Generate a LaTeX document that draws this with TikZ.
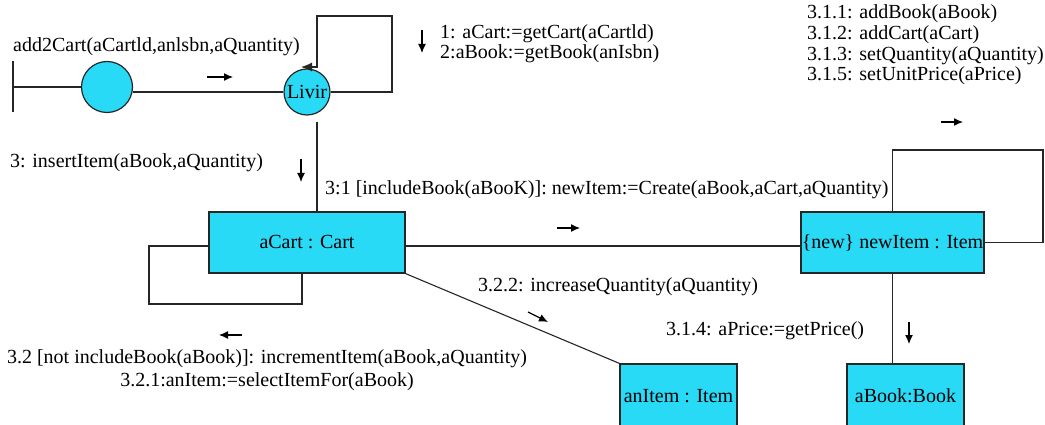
\documentclass[tikz,border=0pt]{standalone}
\usepackage{fontspec}
\setmainfont{Liberation Serif}
\usetikzlibrary{arrows.meta, positioning, calc}
\definecolor{objcyan}{RGB}{41,218,247}

\begin{document}
\begin{tikzpicture}[
    x=1pt, y=-1pt,
    every node/.style={font=\fontsize{20}{20.7}\selectfont},
    object/.style={rectangle, draw=black!85, line width=1.2pt, fill=objcyan, inner sep=0pt},
    role/.style={circle, draw=black!85, line width=1.2pt, fill=objcyan, inner sep=0pt, minimum size=46pt},
    link/.style={draw=black!85, line width=1.1pt},
    msg/.style={draw, line width=1.2pt, -{Latex[length=9pt, width=8pt]}},
    msglabel/.style={inner sep=0pt, anchor=west, align=left}
]
    \useasboundingbox (0,0) rectangle (1045,425);
    \clip (0,0) rectangle (1045,425);

    % Objects
    \node (anon) [role, minimum size=51pt] at (107,87) {};
    \node (livir) [role] at (307,92) {Livir};
    \node (acart) [object, minimum width=196pt, minimum height=61pt] at (307,242.5) {aCart : Cart};
    \node (newitem) [object, minimum width=183pt, minimum height=61pt] at (892.5,242.5) {\{new\} newItem : Item};
    \node (anitem) [object, minimum width=117pt, minimum height=64pt] at (678.5,396) {anItem : Item};
    \node (abook) [object, minimum width=117pt, minimum height=64pt] at (905.5,396) {aBook:Book};

    % Message texts
    \node (entry) [msglabel] at (13,47) {add2Cart(aCartld,anlsbn,aQuantity)};
    \node (getters) [msglabel, font=\fontsize{20}{20}\selectfont] at (440,44) {1: aCart:=getCart(aCartld)\\2:aBook:=getBook(anIsbn)};
    \node (itemops) [msglabel] at (807,45) {3.1.1: addBook(aBook)\\3.1.2: addCart(aCart)\\3.1.3: setQuantity(aQuantity)\\3.1.5: setUnitPrice(aPrice)};
    \node (insert) [msglabel] at (10,163) {3: insertItem(aBook,aQuantity)};
    \node (create) [msglabel] at (325,190) {3:1 [includeBook(aBooK)]: newItem:=Create(aBook,aCart,aQuantity)};
    \node (increase) [msglabel] at (478,287) {3.2.2: increaseQuantity(aQuantity)};
    \node (price) [msglabel] at (666,331) {3.1.4: aPrice:=getPrice()};
    \node (increment) [inner sep=0pt, align=center, font=\fontsize{20}{22.7}\selectfont] at (267,370.5) {3.2 [not includeBook(aBook)]: incrementItem(aBook,aQuantity)\\3.2.1:anItem:=selectItemFor(aBook)};

    % Actor and links
    \coordinate (actor) at (13,87);
    \draw [link] (actor) ++(0,-26) -- ++(0,51);
    \draw [link] (actor) -- (anon);
    \draw [link] (anon.east |- livir) -- (livir);
    \draw [link, -{Latex[length=11pt, width=9pt]}] (livir.east) -| (392,16) -| (317,67) -- (301,67);

    \coordinate (tap) at (317,122);
    \draw [link] (tap) -- (tap |- acart.north);

    % aCart self link
    \coordinate (cartloop) at (302,304);
    \draw [link] ([yshift=-3.5pt]acart.west) -| (149,304) -- (cartloop) -- (cartloop |- acart.south);

    \draw [link] ([yshift=-3.5pt]acart.east) -- ([yshift=-3.5pt]acart.east -| newitem.west);
    \draw [link] (newitem.north) |- (1043,150) |- (newitem.east);
    \draw [link] (newitem.south) -- (newitem.south |- abook.north);
    \draw [link] (acart.south east) -- (anitem.north west);

    % Direction marks
    \coordinate (d0) at (207,77);
    \coordinate (d1) at (422,30);
    \coordinate (d3) at (301,159);
    \coordinate (d31) at (557,228);
    \coordinate (d311) at (941,122);
    \coordinate (d314) at (909,322);
    \coordinate (d32) at (242,335);
    \coordinate (d322) at (528,312);
    \draw [msg] (d0) -- ++(26,0);
    \draw [msg] (d1) -- ++(0,23);
    \draw [msg] (d3) -- ++(0,23);
    \draw [msg] (d31) -- ++(23,0);
    \draw [msg] (d311) -- ++(22,0);
    \draw [msg] (d314) -- ++(0,22);
    \draw [msg] (d32) -- ++(-23,0);
    \draw [msg] (d322) -- ++(20,10);

\end{tikzpicture}
\end{document}
